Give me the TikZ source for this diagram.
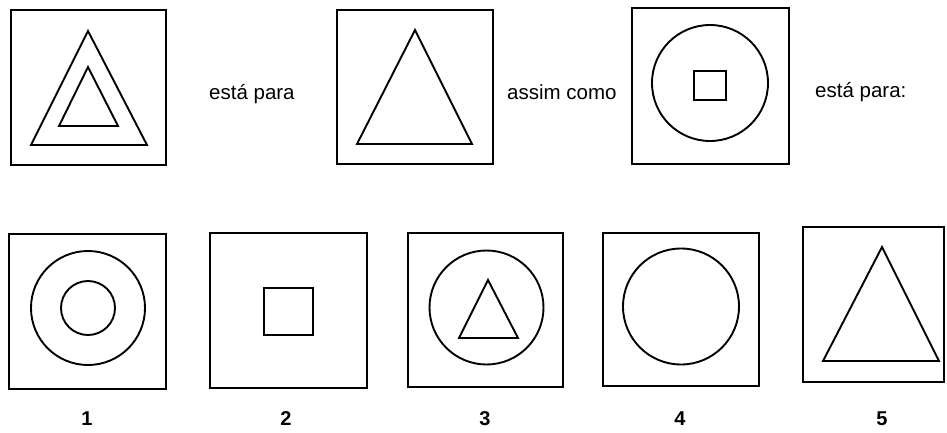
\documentclass[tikz,border=0pt]{standalone}
\usepackage{fontspec}
\setmainfont{Liberation Sans}
\begin{document}
\begin{tikzpicture}[x=1pt,y=-1pt,
  frame/.style={draw,line width=2.3pt,inner sep=0pt,outer sep=0pt},
  shp/.style={line width=1.9pt,line join=miter},
  ring/.style={draw,circle,line width=1.9pt,inner sep=0pt,outer sep=0pt},
  word/.style={anchor=base west,inner sep=0pt,font=\fontsize{20.5}{24}\selectfont},
  num/.style={anchor=base,inner sep=0pt,font=\fontsize{20}{24}\selectfont\bfseries}]
\useasboundingbox (0,0) rectangle (947,433);
% top row
\node[frame,minimum width=155pt,minimum height=155pt] (t1) at (88.5,87.5) {};
\draw[shp] (88,31) -- (31,145) -- (147,145) -- cycle;
\draw[shp] (88,67) -- (59,126) -- (118,126) -- cycle;
\node[word] (w1) at (209,100) {está para};
\node[frame,minimum width=156pt,minimum height=154pt] (t2) at (415,87) {};
\draw[shp] (415,30) -- (357,144) -- (472,144) -- cycle;
\node[word] (w2) at (507,100) {assim como};
\node[frame,minimum width=157pt,minimum height=156pt] (t3) at (710.5,86) {};
\node[ring,minimum size=116pt] (t3c) at (710,83) {};
\node[frame,line width=1.9pt,minimum width=32pt,minimum height=29pt] (t3s) at (710,85.5) {};
\node[word] (w3) at (815,98) {está para:};
% bottom row
\node[frame,minimum width=157pt,minimum height=155pt] (b1) at (87.5,311.5) {};
\node[ring,minimum size=114pt] (b1o) at (88,308) {};
\node[ring,minimum size=54pt] (b1i) at (88,308) {};
\node[frame,minimum width=157pt,minimum height=155pt] (b2) at (288.5,310.5) {};
\node[frame,line width=1.9pt,minimum width=49pt,minimum height=47pt] (b2s) at (288.5,311.5) {};
\node[frame,minimum width=155pt,minimum height=154pt] (b3) at (485.5,310) {};
\node[ring,minimum size=114pt] (b3c) at (486.5,307.5) {};
\draw[shp] (488,280) -- (459,338) -- (518,338) -- cycle;
\node[frame,minimum width=156pt,minimum height=153pt] (b4) at (681,309.5) {};
\node[ring,minimum size=116pt] (b4c) at (681,306.5) {};
\node[frame,minimum width=141pt,minimum height=155pt] (b5) at (873.5,304.5) {};
\draw[shp] (882,247) -- (823,361) -- (939,361) -- cycle;
% labels
\node[num] (n1) at (87,425) {1};
\node[num] (n2) at (286,425) {2};
\node[num] (n3) at (485,425) {3};
\node[num] (n4) at (680,425) {4};
\node[num] (n5) at (882,425) {5};
\end{tikzpicture}
\end{document}
